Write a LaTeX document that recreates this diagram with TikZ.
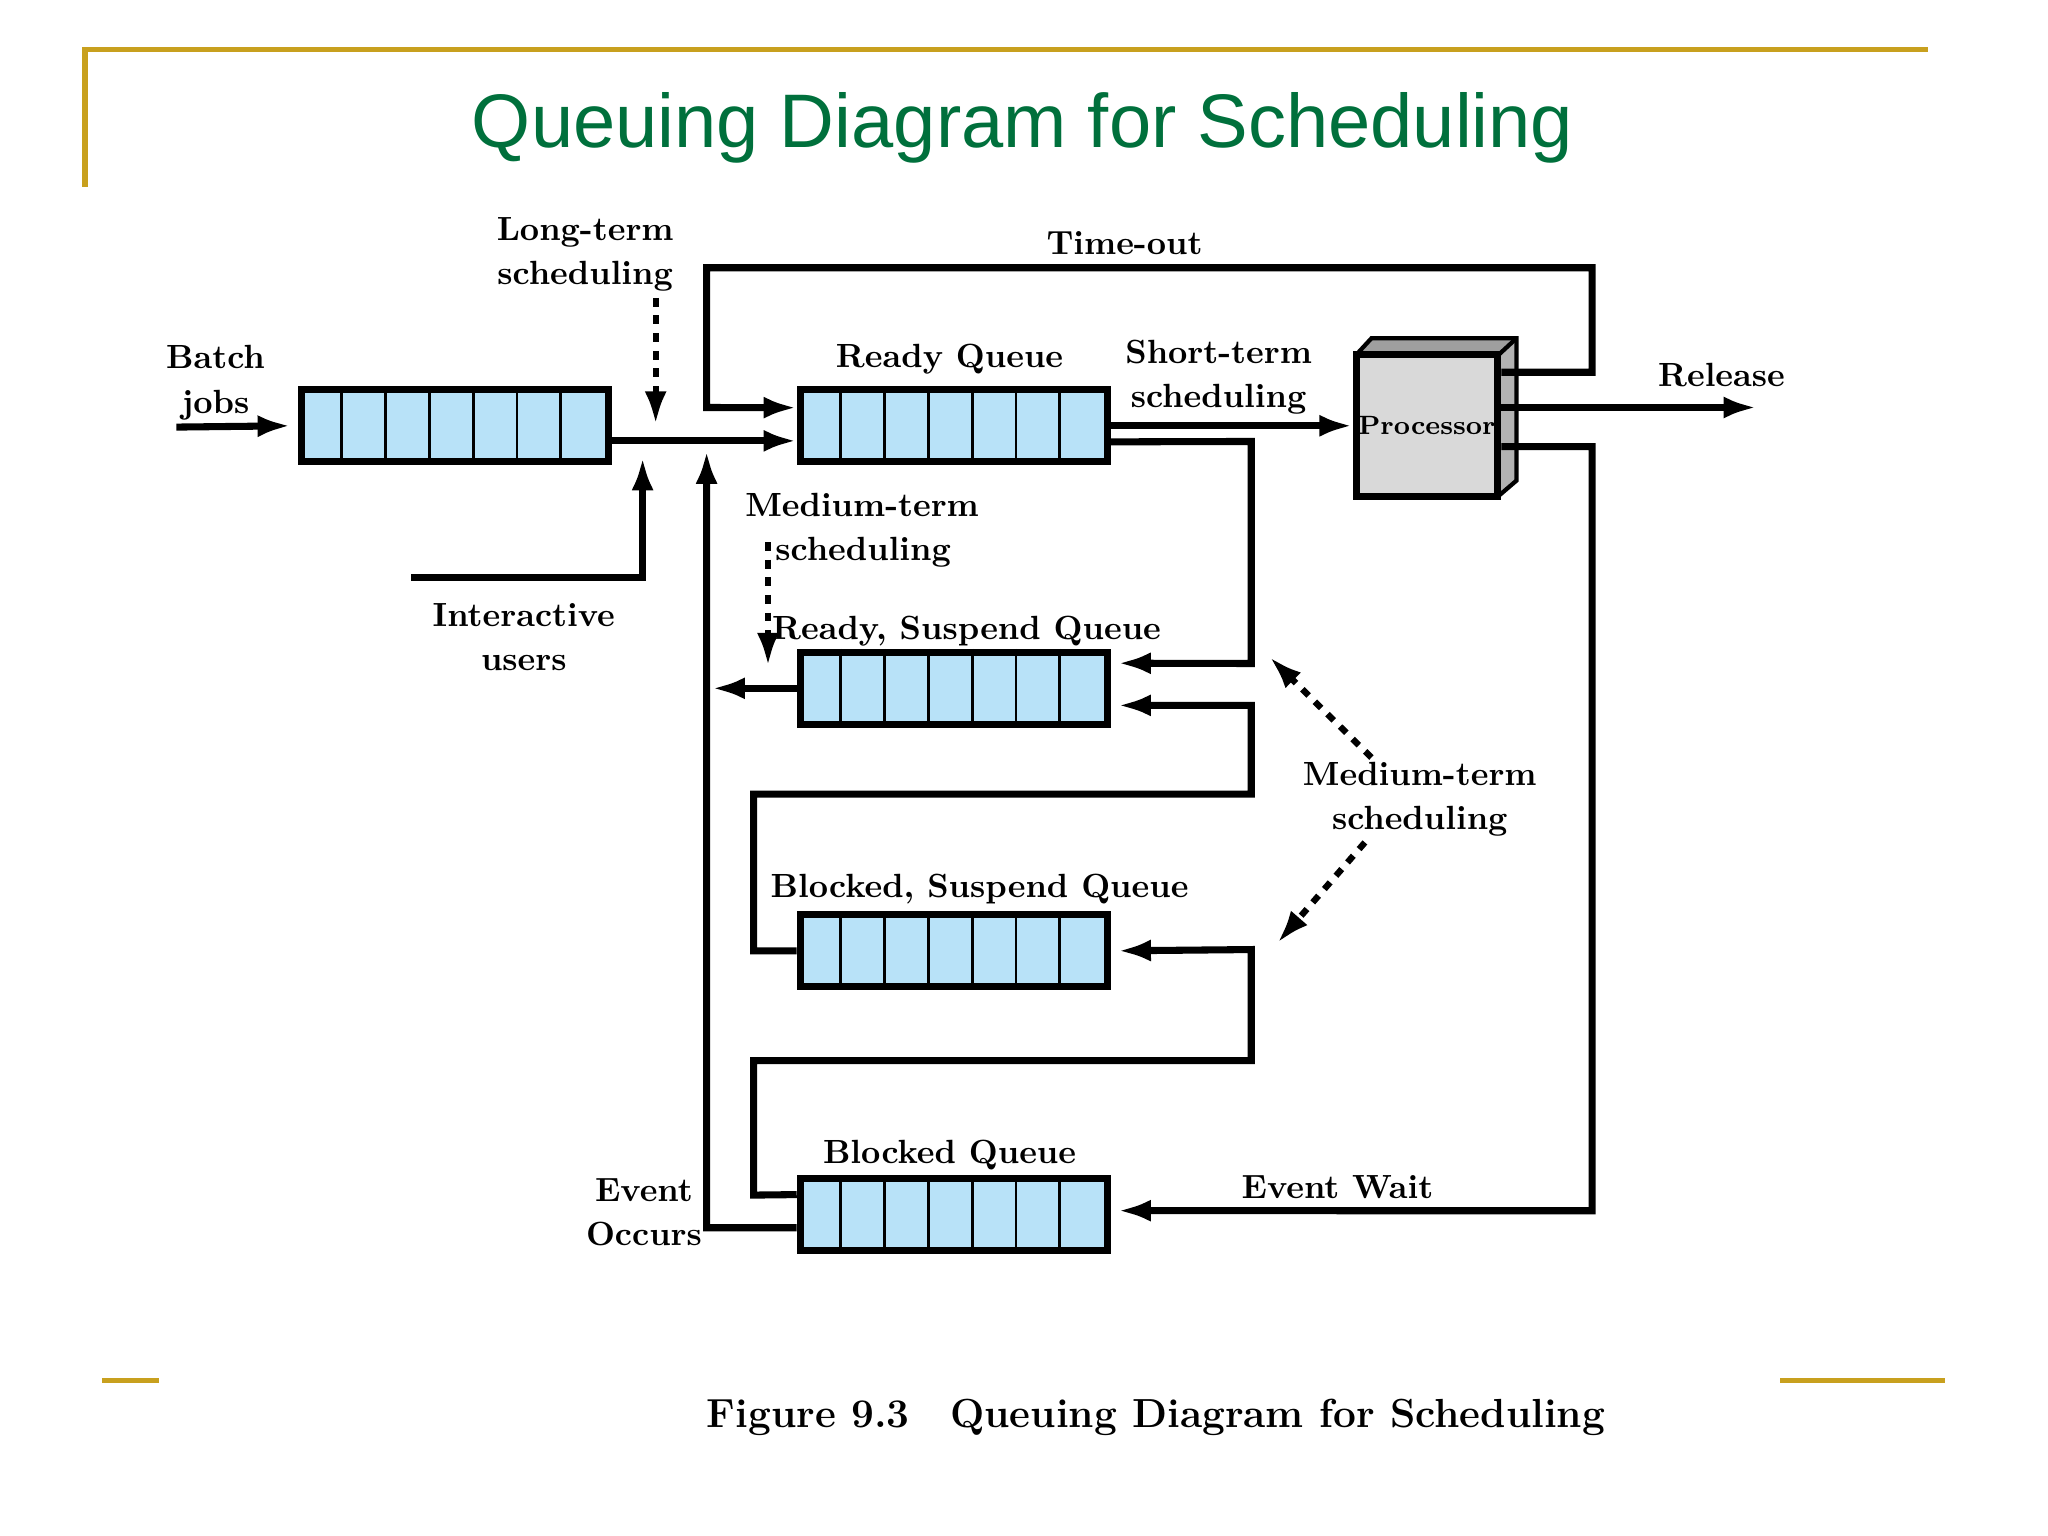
\documentclass[tikz,border=0pt]{standalone}
\usepackage{fontspec}
\newfontfamily\titlefont{Liberation Sans}
\usetikzlibrary{arrows.meta,positioning}
\definecolor{qblue}{RGB}{184,226,248}
\definecolor{gold}{RGB}{200,160,30}
\definecolor{tgreen}{RGB}{0,112,60}
\tikzset{
  flow/.style={line width=2pt,-{Latex[length=3.3mm,width=2.2mm]}},
  wire/.style={line width=2pt},
  sched/.style={line width=1.8pt,dash pattern=on 2.5pt off 2.5pt,-{Latex[length=3.3mm,width=2.2mm]}},
  lbl/.style={font=\fontsize{9.5}{12.5}\selectfont\bfseries,align=center},
  queue/.style={rectangle,draw,line width=2pt,fill=qblue,minimum width=3.055cm,minimum height=0.715cm,inner sep=0pt,anchor=west}
}
\newcommand\cells[1]{\foreach \i in {1,...,6} {\draw[line width=0.8pt] ([xshift=\i*0.4364cm]#1.north west) -- ([xshift=\i*0.4364cm]#1.south west);}}
\begin{document}
\begin{tikzpicture}[x=0.013cm,y=-0.013cm]
	\useasboundingbox (0,0) rectangle (1568,1176);
	% frame and title
	\draw[gold,line width=1.5pt] (65,143) -- (65,38) -- (1476,38);
	\draw[gold,line width=1.5pt] (78,1057) -- (122,1057);
	\draw[gold,line width=1.5pt] (1363,1057) -- (1489,1057);
	\node[text=tgreen,font=\titlefont\fontsize{21.5}{26}\selectfont] (title) at (783,98) {Queuing Diagram for Scheduling};
	% queues
	\node[queue] (batch) at (228,326) {};
	\node[queue] (rq) at (610,326) {};
	\node[queue] (rsq) at (610,527) {};
	\node[queue] (bsq) at (610,728) {};
	\node[queue] (bq) at (610,930) {};
	\foreach \q in {batch,rq,rsq,bsq,bq} {\cells{\q}}
	% processor
	\fill[gray!75] (1038,272) -- (1050,259) -- (1161,259) -- (1147,272) -- cycle;
	\fill[gray!60] (1147,272) -- (1161,259) -- (1161,368) -- (1147,380) -- cycle;
	\draw[wire,line width=1.2pt] (1038,272) -- (1050,259) -- (1161,259) -- (1161,368) -- (1147,380);
	\draw[wire,line width=1.2pt] (1147,272) -- (1161,259);
	\node[rectangle,draw,line width=2pt,fill=gray!30,minimum size=1.41cm,inner sep=0pt] (proc) at (1092.5,326) {};
	\node[lbl,font=\fontsize{7.5}{9}\selectfont\bfseries] at (proc) {Processor};
	% labels
	\node[lbl] at (165,293) {Batch\\jobs};
	\node[lbl] at (448,195) {Long-term\\scheduling};
	\node[lbl] at (861,186) {Time-out};
	\node[lbl] at (727,275) {Ready Queue};
	\node[lbl] at (933,289) {Short-term\\scheduling};
	\node[lbl] at (1318,287) {Release};
	\node[lbl] at (401,488) {Interactive\\users};
	\node[lbl,align=left] at (660,406) {Medium-term\\\hspace*{0.9em}scheduling};
	\node[lbl] at (740,483) {Ready, Suspend Queue};
	\node[lbl] at (1087,612) {Medium-term\\scheduling};
	\node[lbl] at (750,681) {Blocked, Suspend Queue};
	\node[lbl] at (727,884) {Blocked Queue};
	\node[lbl] at (1024,909) {Event Wait};
	\node[lbl] at (493,928) {Event\\Occurs};
	\node[lbl,font=\fontsize{11.5}{14}\selectfont\bfseries] at (885,1085) {Figure 9.3\quad Queuing Diagram for Scheduling};
	% connectors
	\coordinate (bj) at (135,327);
	\draw[flow] (bj) -- ([xshift=-0.07cm]batch.west);
	\draw[flow] ([yshift=-0.15cm]batch.east) -- ([yshift=-0.15cm]rq.west);
	\draw[sched] (502,228) -- (502,325);
	\draw[flow] (315,442) -- (492,442) -- (492,350);
	\draw[flow] ([yshift=-0.13cm]bq.west) -- (541,940) -- (541,345);
	\draw[flow] (rsq.west) -- (545,527);
	\draw[flow] (proc.east |- 0,285) -- (1219,285) -- (1219,205) -- (541,205) -- (541,312) -- ([yshift=0.18cm]rq.west);
	\draw[flow] (rq.east) -- (proc.west);
	\draw[flow] (proc.east |- 0,312) -- (1345,312);
	\draw[flow] ([yshift=-0.16cm]rq.east) -- (958,338) -- (958,508) -- ([xshift=0.07cm,yshift=0.25cm]rsq.east);
	\draw[flow] (bsq.west) -- (577,728) -- (577,608) -- (958,608) -- (958,540) -- ([xshift=0.07cm,yshift=-0.17cm]rsq.east);
	\draw[flow] ([yshift=0.2cm]bq.west) -- (577,915) -- (577,812) -- (958,812) -- (958,727) -- ([xshift=0.07cm]bsq.east);
	\draw[flow] (proc.east |- 0,342) -- (1219,342) -- (1219,927) -- ([xshift=0.07cm,yshift=0.04cm]bq.east);
	\draw[sched] (588,415) -- (588,510);
	\draw[sched] (1050,580) -- (972,503);
	\draw[sched] (1045,645) -- (978,722);
\end{tikzpicture}
\end{document}
